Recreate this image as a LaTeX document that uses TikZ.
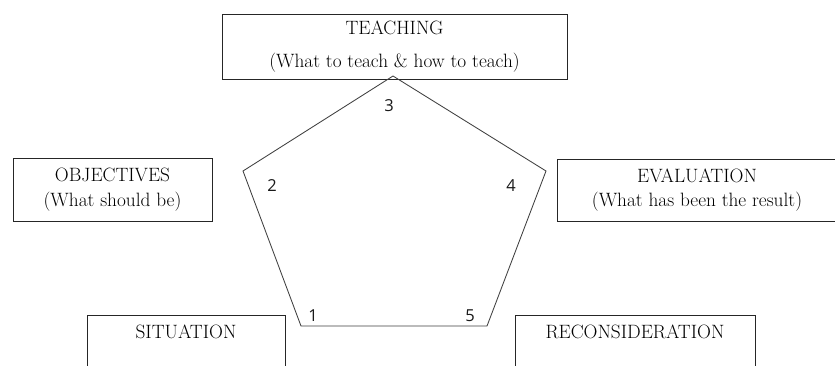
\documentclass[tikz,border=0pt]{standalone}
\usepackage{fontspec}
\newfontfamily\numfont{Open Sans}
\begin{document}
\begin{tikzpicture}[x=1pt,y=-1pt,
  box/.style={draw=black!85, line width=1pt, rectangle, inner sep=0pt, align=center, text=black},
  boxfont/.style={font=\fontsize{19.3}{#1}\selectfont},
  topbox/.style={draw=black!85, line width=1pt, rectangle, inner sep=0pt, anchor=north,
    text height=23pt, text depth=70pt, text=black, font=\fontsize{19.3}{23}\selectfont},
  edge/.style={draw=black!75, line width=0.85pt, line join=miter},
  num/.style={font=\numfont\fontsize{16.5}{20}\selectfont, text=black!90, inner sep=0pt}]
\useasboundingbox (0,0) rectangle (835,365);
\clip (0,0) rectangle (835,365);
\fill[white] (0,0) rectangle (835,365);
% boxes
\node[box, boxfont=33, minimum width=345pt, minimum height=65pt] (teach) at (394.5,46.5)
  {TEACHING\\(What to teach \& how to teach)};
\node[box, boxfont=25, minimum width=199pt, minimum height=63pt] (obj) at (112.5,189.5)
  {OBJECTIVES\\(What should be)};
\node[box, boxfont=24, minimum width=280pt, minimum height=62pt] (eval) at (697,190)
  {EVALUATION\\(What has been the result)};
\node[topbox, minimum width=198pt] (sit) at (186,315) {SITUATION};
\node[topbox, minimum width=240pt] (recon) at (635,315) {RECONSIDERATION};
% pentagon
\coordinate (v1) at (301,326);
\coordinate (v2) at (243,171);
\coordinate (v3) at (393,76);
\coordinate (v4) at (546,171);
\coordinate (v5) at (487,326);
\draw[edge] (v1) -- (v2) -- (v3) -- (v4) -- (v5) -- cycle;
\node[num] (n1) at (313,316) {1};
\node[num] (n2) at (272,186) {2};
\node[num] (n3) at (389,106) {3};
\node[num] (n4) at (511,186) {4};
\node[num] (n5) at (470,316) {5};
\end{tikzpicture}
\end{document}
